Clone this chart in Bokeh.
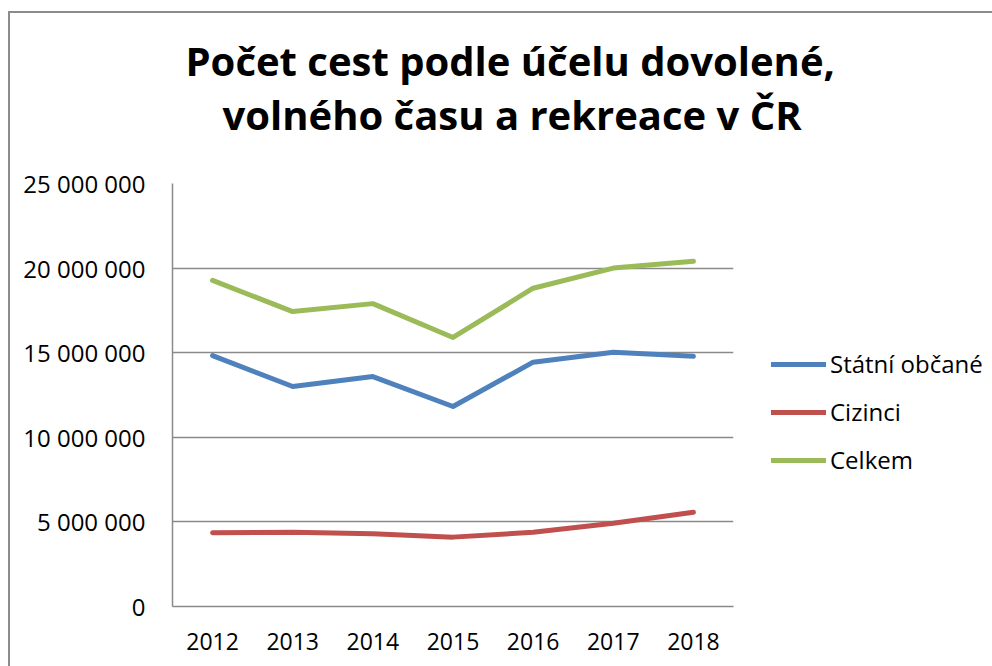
from bokeh.plotting import figure
from bokeh.models import (FactorRange, Range1d, FixedTicker, CustomJSTickFormatter,
                          Legend, LegendItem, Title)
from bokeh.embed import file_html
from bokeh.resources import INLINE

# ---- data ----
years = ["2012", "2013", "2014", "2015", "2016", "2017", "2018"]
statni_obcane = [14830000, 13000000, 13590000, 11820000, 14440000, 15030000, 14790000]
cizinci = [4360000, 4390000, 4300000, 4100000, 4390000, 4920000, 5570000]
celkem = [19270000, 17430000, 17900000, 15900000, 18810000, 20000000, 20400000]
series_names = ["Státní občané", "Cizinci", "Celkem"]
series_colors = ["#4F81BD", "#C0504D", "#9BBB59"]
y_ticks = [0, 5000000, 10000000, 15000000, 20000000, 25000000]
title_lines = ["Počet cest podle účelu dovolené,", "volného času a rekreace v ČR"]

FONT = "Open Sans"
GRID = "#8a8a8a"

p = figure(
    x_range=FactorRange(*years, range_padding=0),
    y_range=Range1d(0, 25000000),
    frame_width=561, frame_height=423,
    min_border_left=162, min_border_right=10,
    min_border_top=170, min_border_bottom=60,
    output_backend="svg", toolbar_location=None,
    background_fill_color="white", border_fill_color="white",
)
p.styles = {"border-top": "2px solid #8c8c8c", "border-left": "2px solid #8c8c8c",
            "margin-top": "11px", "margin-left": "8px"}
p.outline_line_color = None

renderers = []
for vals, col in zip([statni_obcane, cizinci, celkem], series_colors):
    r = p.line(years, vals, line_color=col, line_width=5,
               line_cap="round", line_join="round")
    renderers.append(r)

# axes
p.yaxis.ticker = FixedTicker(ticks=y_ticks)
p.yaxis.formatter = CustomJSTickFormatter(
    code="return Math.round(tick).toString().replace(/\\B(?=(\\d{3})+(?!\\d))/g, ' ');")
for ax in (p.xaxis[0], p.yaxis[0]):
    ax.axis_line_color = GRID
    ax.axis_line_width = 1.5
    ax.major_tick_line_color = None
    ax.minor_tick_line_color = None
    ax.major_tick_out = 0
    ax.major_tick_in = 0
    ax.major_label_text_font = FONT
    ax.major_label_text_color = "black"
p.yaxis.major_label_text_font_size = "24px"
p.xaxis.major_label_text_font_size = "23px"
p.yaxis.major_label_standoff = 27
p.xaxis.major_label_standoff = 26

p.xgrid.grid_line_color = None
p.ygrid.grid_line_color = GRID
p.ygrid.grid_line_width = 1.5
p.ygrid.ticker = FixedTicker(ticks=y_ticks)

# title: two lines stacked in the "above" panel
p.add_layout(Title(text=title_lines[1], align="left", offset=50, standoff=84,
                   text_font=FONT, text_font_style="bold", text_font_size="40px",
                   text_color="black"), "above")
p.add_layout(Title(text=title_lines[0], align="left", offset=13, standoff=-90,
                   text_font=FONT, text_font_style="bold", text_font_size="40px",
                   text_color="black"), "above")

legend = Legend(
    items=[LegendItem(label=n, renderers=[r]) for n, r in zip(series_names, renderers)],
    location=(38, 130),
    orientation="vertical",
    glyph_width=55, glyph_height=24,
    label_height=24, label_standoff=4,
    spacing=15, padding=0, margin=0,
    label_text_font=FONT, label_text_font_size="24px", label_text_color="black",
    border_line_color=None, background_fill_alpha=0,
)
p.add_layout(legend, "right")

open("out.html", "w").write(file_html(p, INLINE))
